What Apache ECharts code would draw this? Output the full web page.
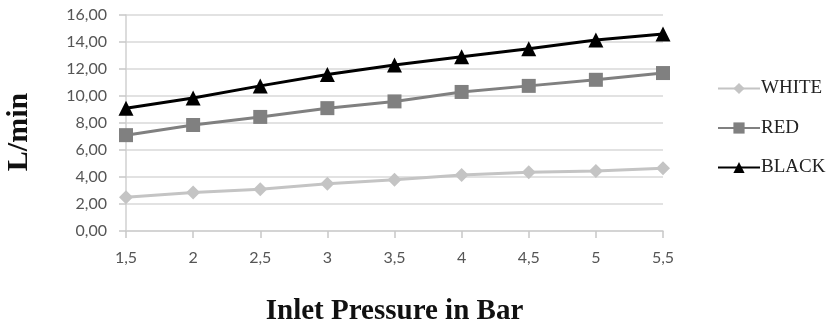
<!DOCTYPE html>
<html>
<head>
<meta charset="utf-8">
<script src="https://cdn.jsdelivr.net/npm/echarts@6/dist/echarts.min.js"></script>
<style>
  html, body { margin: 0; padding: 0; background: #fff; }
  #chart { width: 828px; height: 323px; }
</style>
</head>
<body>
<div id="chart"></div>
<script>
// Inlet pressure (bar) on the category axis
const pressures = ['1,5', '2', '2,5', '3', '3,5', '4', '4,5', '5', '5,5'];
// Flow rate in L/min for each nozzle colour
const white = [2.5, 2.85, 3.1, 3.5, 3.8, 4.15, 4.35, 4.45, 4.65];
const red = [7.1, 7.85, 8.45, 9.1, 9.6, 10.3, 10.75, 11.2, 11.7];
const black = [9.1, 9.85, 10.75, 11.6, 12.3, 12.9, 13.5, 14.15, 14.6];

const serif = '"Liberation Serif", "DejaVu Serif", serif';
const sans = 'Lato, "Open Sans", sans-serif';

function lineSeries(name, data, color, symbol, size, width) {
  return {
    name: name,
    type: 'line',
    data: data,
    symbol: symbol,
    symbolSize: size,
    showAllSymbol: true,
    lineStyle: { color: color, width: width },
    itemStyle: { color: color },
    emphasis: { disabled: true },
    animation: false
  };
}

const chart = echarts.init(document.getElementById('chart'));
chart.setOption({
  backgroundColor: '#fff',
  animation: false,
  grid: { left: 126, right: 165, top: 15, bottom: 92, containLabel: false, outerBoundsMode: 'none' },
  // vertical axis title, placed slightly below the plot's centre
  graphic: [{
    type: 'text',
    x: 19,
    y: 132,
    rotation: Math.PI / 2,
    style: {
      text: 'L/min',
      fontFamily: serif,
      fontWeight: 'bold',
      fontSize: 30,
      fill: '#111',
      align: 'center',
      verticalAlign: 'middle'
    }
  }],
  legend: {
    orient: 'vertical',
    left: 712,
    top: 74,
    itemGap: 20.5,
    itemWidth: 42,
    itemHeight: 14,
    textStyle: { fontFamily: serif, fontSize: 19, color: '#222', padding: [0, 0, 0, -4] },
    data: ['WHITE', 'RED', 'BLACK']
  },
  xAxis: {
    type: 'category',
    data: pressures,
    boundaryGap: false,
    name: 'Inlet Pressure in Bar',
    nameLocation: 'middle',
    nameGap: 66,
    nameTextStyle: { fontFamily: serif, fontWeight: 'bold', fontSize: 29, color: '#111' },
    axisLine: { lineStyle: { color: '#d0d0d0', width: 1.5 } },
    axisTick: { show: true, length: 7, alignWithLabel: true, lineStyle: { color: '#c8c8c8', width: 1.5 } },
    axisLabel: { fontFamily: sans, fontSize: 16, color: '#555', margin: 19 },
    splitLine: { show: false }
  },
  yAxis: {
    type: 'value',
    min: 0,
    max: 16,
    interval: 2,
    axisLine: { show: true, lineStyle: { color: '#d0d0d0', width: 1.5 } },
    axisTick: { show: true, length: 7, lineStyle: { color: '#c8c8c8', width: 1.5 } },
    axisLabel: {
      fontFamily: sans, fontSize: 16, color: '#555', margin: 19,
      formatter: v => v.toFixed(2).replace('.', ',')
    },
    splitLine: { lineStyle: { color: '#d9d9d9', width: 1.5 } }
  },
  series: [
    lineSeries('WHITE', white, '#c4c4c4', 'diamond', 14, 3),
    lineSeries('RED', red, '#808080', 'rect', 14, 3),
    lineSeries('BLACK', black, '#000000', 'triangle', 15, 3)
  ]
});
</script>
</body>
</html>
